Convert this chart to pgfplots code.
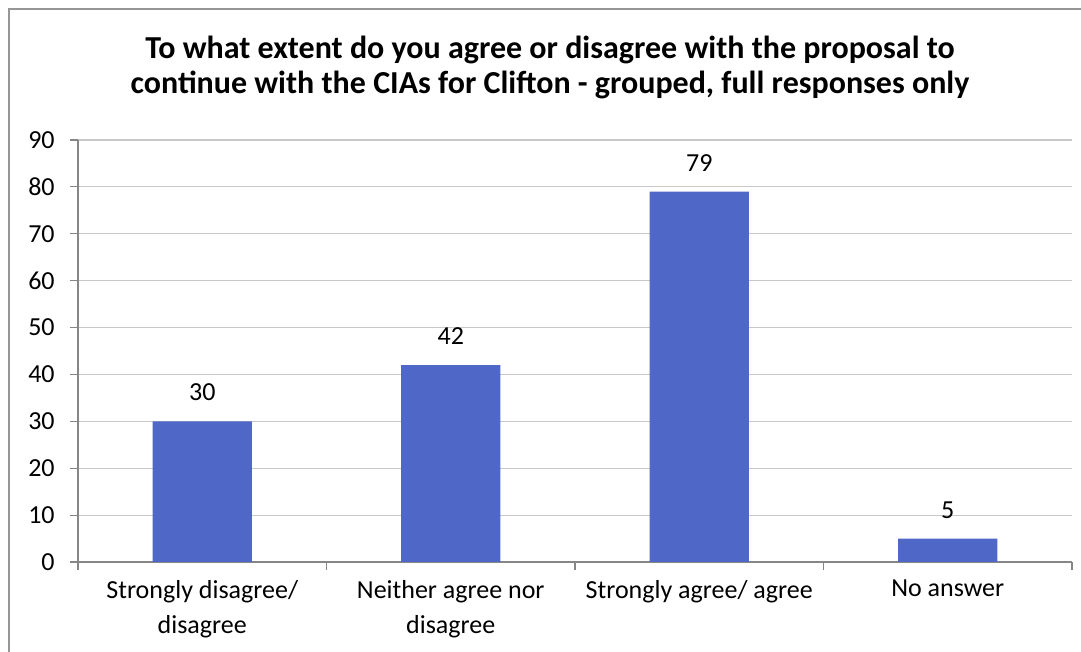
\documentclass[border=0pt]{standalone}
\usepackage{pgfplots}
\pgfplotsset{compat=1.18}
\usepackage{fontspec}
\setmainfont{Carlito}
\definecolor{barblue}{RGB}{79,104,200}
\definecolor{gridgray}{RGB}{200,200,200}
\definecolor{axisgray}{RGB}{134,134,134}
\definecolor{framegray}{RGB}{150,150,150}
\begin{document}
\begin{tikzpicture}[x=0.75pt,y=0.75pt]
\useasboundingbox (0,0) rectangle (1081,652);
\draw[color=framegray, line width=1.1pt] (9,-20) -- (9,643) -- (1100,643);
\node[font=\fontsize{24}{26.25}\selectfont\bfseries, align=center] at (550,585)
  {To what extent do you agree or disagree with the proposal to\\continue with the CIAs for Clifton - grouped, full responses only};
\begin{axis}[
  at={(58.5pt,67.5pt)}, anchor=south west,
  width=745.5pt, height=316.5pt, scale only axis,
  ymin=0, ymax=90, ytick={0,10,...,90},
  xmin=-0.5, xmax=3.5,
  xtick={0,1,2,3},
  xticklabels={{Strongly disagree/\\disagree},{Neither agree nor\\disagree},{Strongly agree/ agree},{No answer}},
  minor xtick={-0.5,0.5,1.5,2.5,3.5},
  major x tick style={draw=none},
  tick align=outside,
  major tick length=6pt,
  minor tick length=6pt,
  tick style={axisgray, line width=0.8pt},
  axis x line*=bottom, axis y line*=left,
  axis line style={-, axisgray, line width=0.8pt},
  ymajorgrids, grid style={gridgray, line width=0.8pt},
  ticklabel style={font=\fontsize{19.5}{26.25}\selectfont},
  x tick label style={align=center, yshift=-4pt},
  y tick label style={xshift=-8pt},
  /pgf/number format/assume math mode=true,
  nodes near coords,
  every node near coord/.append style={font=\fontsize{19.5}{26.25}\selectfont, anchor=south, inner sep=0pt, yshift=15pt},
]
\addplot[ybar, bar width=0.4, fill=barblue, draw=none] coordinates {(0,30) (1,42) (2,79) (3,5)};
\end{axis}
\end{tikzpicture}
\end{document}
